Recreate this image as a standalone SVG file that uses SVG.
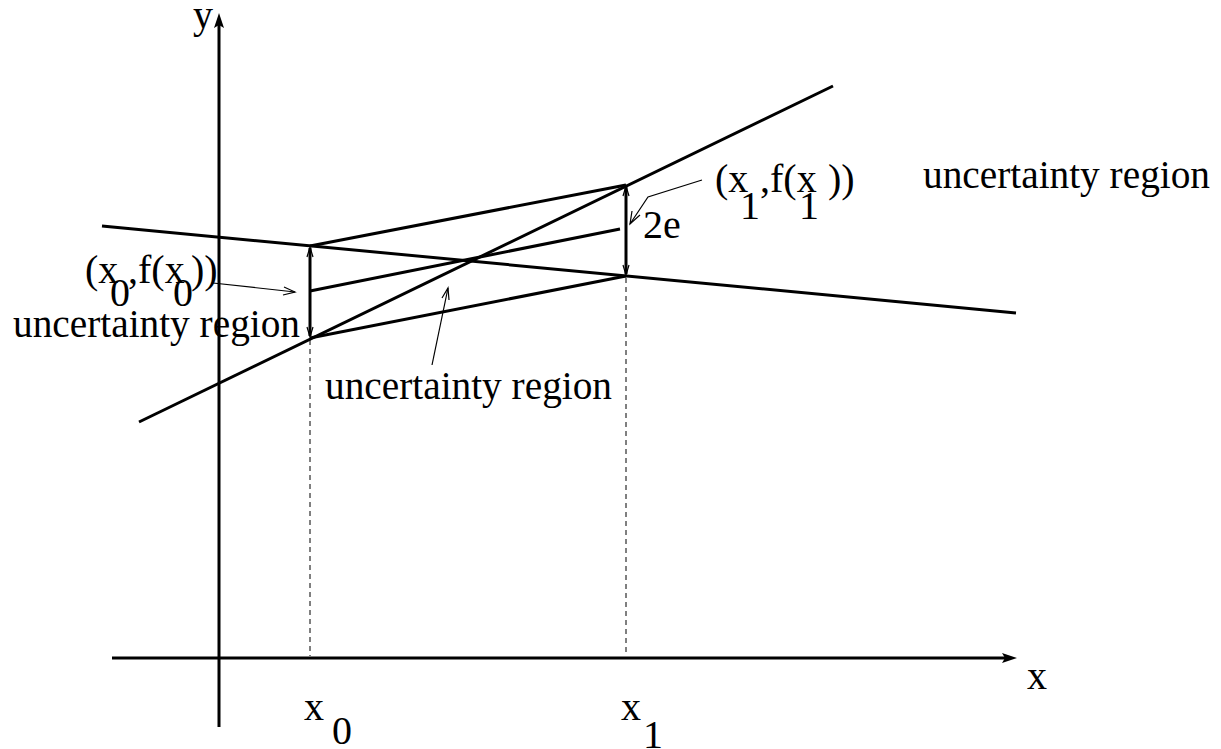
<svg xmlns="http://www.w3.org/2000/svg" width="1221" height="749" viewBox="0 0 1221 749">
<style>
text{font-family:"Liberation Serif","Times New Roman",serif;font-size:40px;fill:#000}
.thick{stroke:#000;stroke-width:3;fill:none}
.thin{stroke:#000;stroke-width:1.2;fill:none}
.dash{stroke:#000;stroke-width:1;fill:none;stroke-dasharray:5,4}
</style>
<rect width="1221" height="749" fill="#fff"/>
<g id="label-y"><text x="193" y="28">y</text></g>
<g id="label-x"><text x="1027" y="689">x</text></g>
<g id="label-x0"><text x="304" y="720">x</text><text x="332" y="744">0</text></g>
<g id="label-x1"><text x="621" y="720">x</text><text x="643" y="748">1</text></g>
<g id="label-p0"><text x="85" y="283">(x</text><text x="128" y="283">,f(x</text><text x="191" y="283">))</text><text x="110" y="306">0</text><text x="173" y="306">0</text></g>
<g id="label-p1"><text x="715" y="192">(x</text><text x="760" y="192">,f(x</text><text x="828" y="192">))</text><text x="740" y="219">1</text><text x="799" y="219">1</text></g>
<g id="label-2e"><text x="643" y="238">2e</text></g>
<g id="region-left"><text x="13" y="337" textLength="287" lengthAdjust="spacingAndGlyphs">uncertainty region</text></g>
<g id="region-mid"><text x="325" y="399" textLength="287" lengthAdjust="spacingAndGlyphs">uncertainty region</text></g>
<g id="region-right"><text x="923" y="188" textLength="287" lengthAdjust="spacingAndGlyphs">uncertainty region</text></g>
<g id="connectors">
<line class="thick" x1="219" y1="727" x2="219" y2="20"/>
<path d="M219,13 L224,28 L219,25 L214,28 Z" fill="#000"/>
<line class="thick" x1="112" y1="658" x2="1010" y2="658"/>
<path d="M1017,658 L1002,663 L1005,658 L1002,653 Z" fill="#000"/>
<line class="thick" x1="102" y1="226" x2="1016" y2="313"/>
<line class="thick" x1="139" y1="422" x2="833" y2="86"/>
<line class="thick" x1="310" y1="246" x2="626" y2="185"/>
<line class="thick" x1="310" y1="291" x2="620" y2="229"/>
<line class="thick" x1="310" y1="338" x2="626" y2="276"/>
<line class="thick" x1="310" y1="248" x2="310" y2="336"/>
<path class="thin" d="M307,257 L310,247 L313,257 M307,327 L310,337 L313,327"/>
<line class="thick" x1="626" y1="187" x2="626" y2="274"/>
<path class="thin" d="M623,196 L626,186 L629,196 M623,265 L626,275 L629,265"/>
<line class="dash" x1="310" y1="340" x2="310" y2="656"/>
<line class="dash" x1="626" y1="278" x2="626" y2="656"/>
<line class="thin" x1="213" y1="283" x2="295" y2="292"/>
<path class="thin" d="M284,287 L295,292 L283,295"/>
<polyline class="thin" points="702,180 648,197 630,224"/>
<path class="thin" d="M632,211 L630,224 L640,215"/>
<line class="thin" x1="432" y1="365" x2="448" y2="288"/>
<path class="thin" d="M442,298 L448,288 L449,300"/>
</g>
</svg>
